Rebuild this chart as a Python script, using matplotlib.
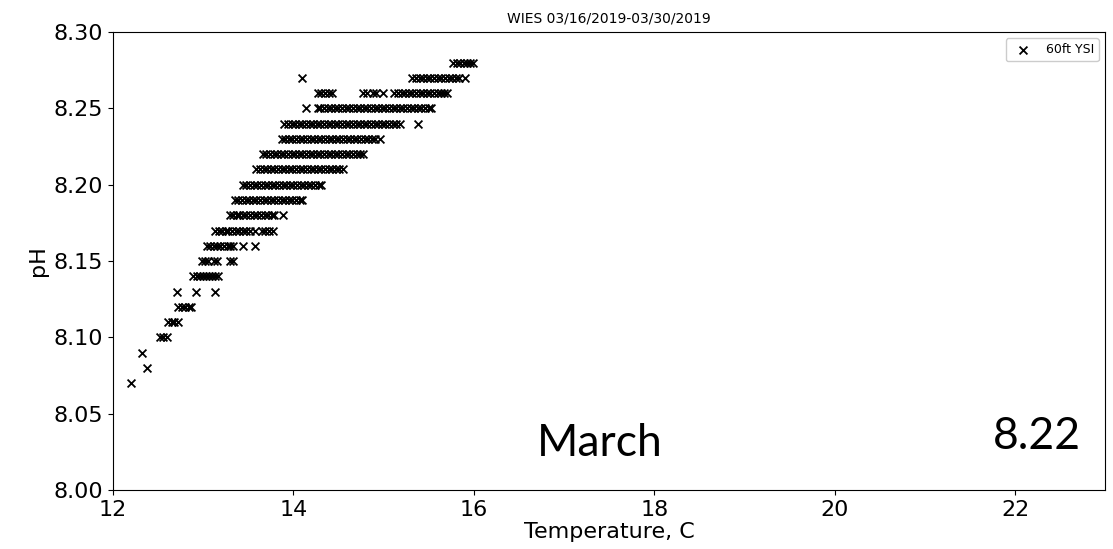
import matplotlib
matplotlib.use("Agg")
import matplotlib.pyplot as plt

# pH levels and the temperatures (C) observed at each level
ph_levels = [8.07, 8.08, 8.09, 8.10, 8.11, 8.12, 8.13, 8.14, 8.15, 8.16, 8.17, 8.18,
             8.19, 8.20, 8.21, 8.22, 8.23, 8.24, 8.25, 8.26, 8.27, 8.28]
temps_by_ph = [
    [12.20],
    [12.38],
    [12.32],
    [12.52, 12.56, 12.60],
    [12.61, 12.65, 12.68, 12.72],
    [12.72, 12.76, 12.80, 12.84, 12.87],
    [12.71, 12.92, 13.13],
    [12.89, 12.93, 12.97, 13.00, 13.03, 13.07, 13.10, 13.13, 13.16],
    [12.99, 13.02, 13.05, 13.12, 13.15, 13.30, 13.33],
    [13.04, 13.08, 13.12, 13.15, 13.19, 13.23, 13.27, 13.30, 13.33, 13.44, 13.57],
    [13.13, 13.17, 13.21, 13.25, 13.28, 13.32, 13.36, 13.40, 13.44, 13.48, 13.52, 13.57,
     13.65, 13.69, 13.73, 13.77],
    [13.30, 13.33, 13.37, 13.40, 13.44, 13.48, 13.52, 13.56, 13.60, 13.64, 13.68, 13.72,
     13.76, 13.79, 13.88],
    [13.35, 13.39, 13.43, 13.47, 13.51, 13.55, 13.59, 13.63, 13.67, 13.71, 13.75, 13.79,
     13.83, 13.87, 13.91, 13.95, 13.99, 14.03, 14.07, 14.10],
    [13.44, 13.48, 13.52, 13.56, 13.60, 13.64, 13.68, 13.72, 13.76, 13.80, 13.84, 13.88,
     13.92, 13.96, 14.00, 14.04, 14.08, 14.12, 14.16, 14.20, 14.24, 14.28, 14.31],
    [13.59, 13.63, 13.67, 13.71, 13.75, 13.79, 13.83, 13.87, 13.91, 13.95, 13.99, 14.03,
     14.07, 14.11, 14.15, 14.19, 14.23, 14.27, 14.31, 14.35, 14.39, 14.43, 14.47, 14.51,
     14.55],
    [13.66, 13.70, 13.74, 13.78, 13.82, 13.86, 13.90, 13.94, 13.98, 14.02, 14.06, 14.10,
     14.14, 14.18, 14.22, 14.26, 14.30, 14.34, 14.38, 14.42, 14.46, 14.50, 14.54, 14.58,
     14.62, 14.66, 14.70, 14.74, 14.77],
    [13.87, 13.91, 13.95, 13.99, 14.03, 14.07, 14.11, 14.15, 14.19, 14.23, 14.27, 14.31,
     14.35, 14.39, 14.43, 14.47, 14.51, 14.55, 14.59, 14.63, 14.67, 14.71, 14.75, 14.79,
     14.83, 14.87, 14.91, 14.96],
    [13.90, 13.94, 13.98, 14.02, 14.06, 14.10, 14.14, 14.18, 14.22, 14.26, 14.30, 14.34,
     14.38, 14.42, 14.46, 14.50, 14.54, 14.58, 14.62, 14.66, 14.70, 14.74, 14.78, 14.82,
     14.86, 14.90, 14.94, 14.98, 15.02, 15.06, 15.10, 15.14, 15.18, 15.38],
    [14.14, 14.27, 14.30, 14.34, 14.38, 14.42, 14.46, 14.50, 14.54, 14.58, 14.62, 14.66,
     14.70, 14.74, 14.78, 14.82, 14.86, 14.90, 14.94, 14.98, 15.02, 15.06, 15.10, 15.14,
     15.18, 15.22, 15.26, 15.30, 15.34, 15.38, 15.42, 15.46, 15.50, 15.53],
    [14.27, 14.31, 14.35, 14.39, 14.43, 14.77, 14.82, 14.88, 14.92, 14.99, 15.12, 15.16,
     15.20, 15.24, 15.28, 15.32, 15.36, 15.40, 15.44, 15.48, 15.52, 15.56, 15.60, 15.64,
     15.67, 15.70],
    [14.10, 15.32, 15.36, 15.40, 15.44, 15.48, 15.52, 15.56, 15.60, 15.64, 15.68, 15.72,
     15.76, 15.80, 15.84, 15.90],
    [15.77, 15.81, 15.85, 15.89, 15.93, 15.96, 15.99],
]

x_ticks = [12, 14, 16, 18, 20, 22]
y_ticks = [8.00, 8.05, 8.10, 8.15, 8.20, 8.25, 8.30]

temps = [t for row in temps_by_ph for t in row]
phs = [p for p, row in zip(ph_levels, temps_by_ph) for _ in row]

fig = plt.figure(figsize=(11.13, 5.49), dpi=100)
ax = fig.add_axes([0.1015, 0.1075, 0.8915, 0.834])
ax.scatter(temps, phs, marker="x", color="black", s=32, linewidths=1.3,
           label="60ft YSI")
ax.set_xlim(12, 23)
ax.set_ylim(8.00, 8.30)
ax.set_xticks(x_ticks)
ax.set_yticks(y_ticks)
ax.set_yticklabels([f"{v:.2f}" for v in y_ticks])
ax.tick_params(labelsize=16)
ax.set_xlabel("Temperature, C", fontsize=16, labelpad=2)
ax.set_ylabel("pH", fontsize=16)
ax.set_title("WIES 03/16/2019-03/30/2019", fontsize=10, pad=7)
ax.legend(loc="upper right", fontsize=9, scatterpoints=1, framealpha=1,
          handletextpad=0.8, borderpad=0.4)
ax.text(16.7, 8.022, "March", fontsize=32, family=["Lato", "DejaVu Sans"])
ax.text(21.75, 8.027, "8.22", fontsize=32, family=["Lato", "DejaVu Sans"])

fig.savefig("out.png", dpi=100)
